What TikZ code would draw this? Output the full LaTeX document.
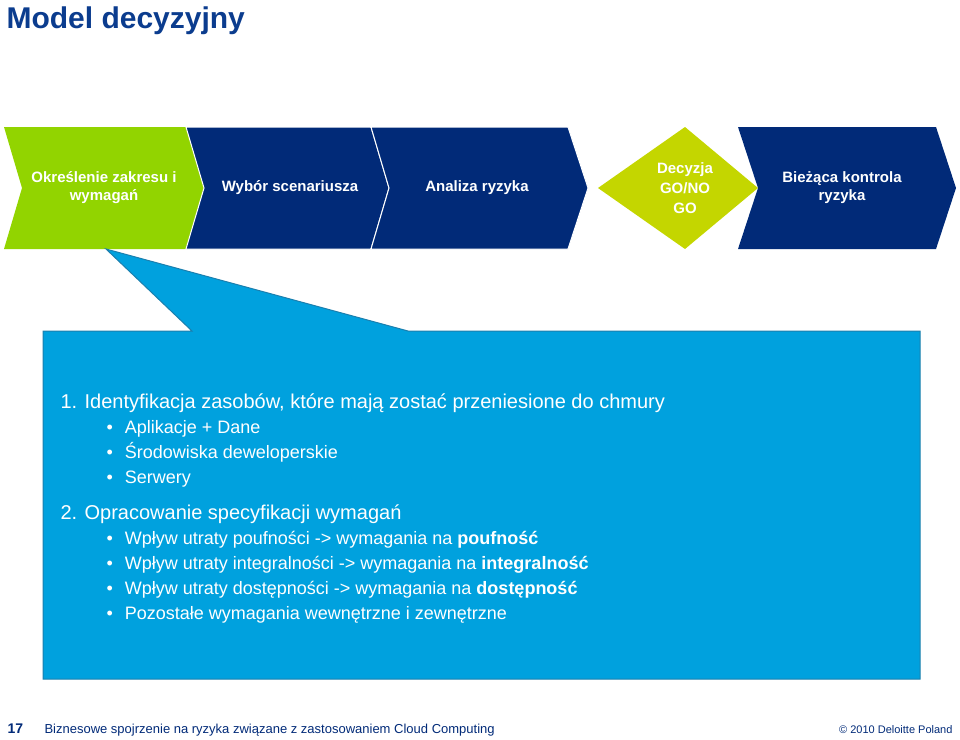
\documentclass[tikz,border=0pt]{standalone}
\usepackage{fontspec}
\setmainfont{Liberation Sans}
\definecolor{navy}{HTML}{012A78}
\definecolor{lgreen}{HTML}{92D400}
\definecolor{ygreen}{HTML}{C4D600}
\definecolor{cblue}{HTML}{00A1DE}
\definecolor{cedge}{HTML}{1B7FAE}
\definecolor{ttl}{HTML}{0B3C8E}
\begin{document}
\begin{tikzpicture}[x=1pt,y=-1pt,
  chev/.style={draw=white,line width=1pt},
  ctext/.style={text=white,font=\fontsize{15}{18}\selectfont\bfseries,align=center},
  btxt/.style={text=white,anchor=base west,font=\fontsize{18}{20}\selectfont},
  htxt/.style={text=white,anchor=base west,font=\fontsize{20}{22}\selectfont}]
\useasboundingbox (0,0) rectangle (960,739);
\node[anchor=base west,text=ttl,font=\fontsize{30}{32}\selectfont\bfseries] (title) at (3,28) {Model decyzyjny};
% chevrons
\fill[lgreen] (4,127) -- (186,127) -- (204,188) -- (186,249) -- (4,249) -- (22,188) -- cycle;
\fill[navy,chev] (186,127) -- (371,127) -- (389,188) -- (371,249) -- (186,249) -- (204,188) -- cycle;
\fill[navy,chev] (371,127) -- (568,127) -- (588,188) -- (568,249) -- (371,249) -- (389,188) -- cycle;
\fill[ygreen] (685,127) -- (758,188) -- (685,249) -- (598,188) -- cycle;
\fill[navy] (738,127) -- (936,127) -- (956,188) -- (936,249) -- (738,249) -- (758,188) -- cycle;
\node[ctext] (c1) at (104,188) {Określenie zakresu i\\wymagań};
\node[ctext] (c2) at (290,188) {Wybór scenariusza};
\node[ctext] (c3) at (477,188) {Analiza ryzyka};
\node[ctext] (c4) at (685,188) {Decyzja\\[2pt]GO/NO\\[2pt]GO};
\node[ctext] (c5) at (842,188) {Bieżąca kontrola\\ryzyka};
% callout
\filldraw[fill=cblue,draw=cedge,line width=1pt] (43,331) -- (192,331) -- (106,249) -- (408,331) -- (920,331) -- (920,679) -- (43,679) -- cycle;
\node[htxt] (h1) at (57,408) {1. Identyfikacja zasobów, które mają zostać przeniesione do chmury};
\node[btxt] (a1) at (103,433) {•\hspace{12pt}Aplikacje + Dane};
\node[btxt] (a2) at (103,458) {•\hspace{12pt}Środowiska deweloperskie};
\node[btxt] (a3) at (103,483) {•\hspace{12pt}Serwery};
\node[htxt] (h2) at (57,519) {2. Opracowanie specyfikacji wymagań};
\node[btxt] (b1) at (103,544) {•\hspace{12pt}Wpływ utraty poufności -> wymagania na \textbf{poufność}};
\node[btxt] (b2) at (103,569) {•\hspace{12pt}Wpływ utraty integralności -> wymagania na \textbf{integralność}};
\node[btxt] (b3) at (103,594) {•\hspace{12pt}Wpływ utraty dostępności -> wymagania na \textbf{dostępność}};
\node[btxt] (b4) at (103,619) {•\hspace{12pt}Pozostałe wymagania wewnętrzne i zewnętrzne};
% footer
\node[anchor=base west,text=navy,font=\fontsize{14}{16}\selectfont\bfseries] (pg) at (4,733) {17};
\node[anchor=base west,text=navy,font=\fontsize{13}{15}\selectfont] (ft) at (41,733) {Biznesowe spojrzenie na ryzyka związane z zastosowaniem Cloud Computing};
\node[anchor=base east,text=navy,font=\fontsize{11}{13}\selectfont] (cp) at (956,733) {© 2010 Deloitte Poland};
\end{tikzpicture}
\end{document}
